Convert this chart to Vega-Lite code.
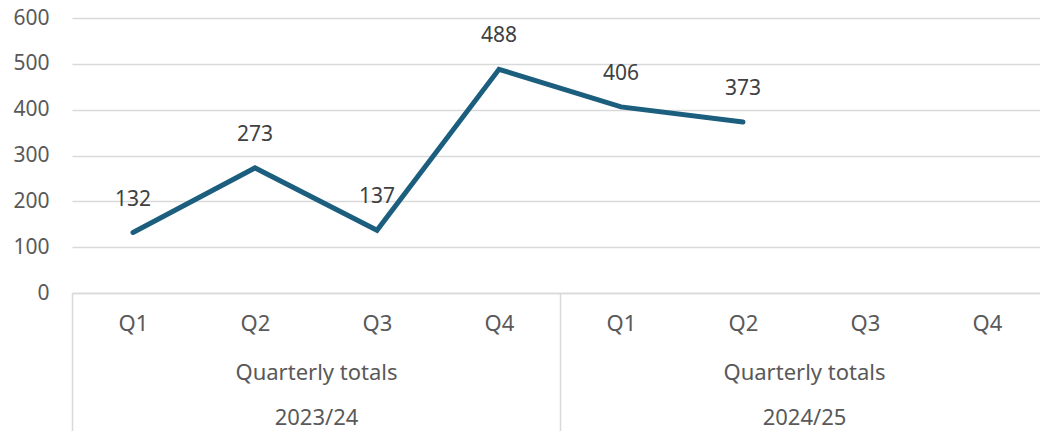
{
  "$schema": "https://vega.github.io/schema/vega-lite/v6.json",
  "width": 976,
  "height": 275,
  "autosize": {"type": "none"},
  "padding": {"left": 72, "top": 18, "right": 0, "bottom": 138},
  "background": "white",
  "config": {
    "view": {"stroke": null},
    "font": "Noto Sans",
    "axis": {"labelFont": "Noto Sans", "labelFontSize": 21, "labelColor": "#595959", "gridColor": "#D9D9D9", "domainColor": "#D9D9D9", "tickColor": "#D9D9D9", "gridWidth": 1.5, "domainWidth": 1.5, "tickWidth": 1.5}
  },
  "data": {
    "values": [
      {"period": "2023/24 Q1", "year": "2023/24", "quarter": "Q1", "value": 132},
      {"period": "2023/24 Q2", "year": "2023/24", "quarter": "Q2", "value": 273},
      {"period": "2023/24 Q3", "year": "2023/24", "quarter": "Q3", "value": 137},
      {"period": "2023/24 Q4", "year": "2023/24", "quarter": "Q4", "value": 488},
      {"period": "2024/25 Q1", "year": "2024/25", "quarter": "Q1", "value": 406},
      {"period": "2024/25 Q2", "year": "2024/25", "quarter": "Q2", "value": 373},
      {"period": "2024/25 Q3", "year": "2024/25", "quarter": "Q3", "value": null},
      {"period": "2024/25 Q4", "year": "2024/25", "quarter": "Q4", "value": null}
    ]
  },
  "layer": [
    {
      "layer": [
        {
          "mark": {"type": "line", "color": "#1B5E7E", "strokeWidth": 5, "strokeCap": "round", "strokeJoin": "miter"},
          "transform": [{"filter": "datum.value != null"}],
          "encoding": {
            "x": {"field": "period", "type": "nominal"},
            "y": {"field": "value", "type": "quantitative"}
          }
        },
        {
          "mark": {"type": "text", "fontSize": 21, "color": "#404040", "dy": -33, "baseline": "middle"},
          "transform": [{"filter": "datum.value != null"}],
          "encoding": {
            "x": {"field": "period", "type": "nominal"},
            "y": {"field": "value", "type": "quantitative"},
            "text": {"field": "value", "type": "quantitative"}
          }
        }
      ],
      "encoding": {
        "x": {
          "field": "period", "type": "nominal",
          "scale": {"domain": ["2023/24 Q1", "2023/24 Q2", "2023/24 Q3", "2023/24 Q4", "2024/25 Q1", "2024/25 Q2", "2024/25 Q3", "2024/25 Q4"], "paddingInner": 0, "paddingOuter": 0},
          "axis": {"title": null, "labelExpr": "slice(datum.label, 8)", "labelFontSize": 22, "ticks": false, "labelPadding": 30, "labelBaseline": "middle", "labelAngle": 0, "domain": true, "grid": false}
        },
        "y": {
          "field": "value", "type": "quantitative",
          "scale": {"domain": [0, 600], "nice": false},
          "axis": {"title": null, "values": [0, 100, 200, 300, 400, 500, 600], "domain": false, "ticks": false, "labelPadding": 23, "grid": true}
        }
      }
    },
    {
      "mark": {"type": "point", "opacity": 0},
      "encoding": {
        "x": {
          "field": "year", "type": "nominal",
          "scale": {"domain": ["2023/24", "2024/25"], "paddingInner": 0, "paddingOuter": 0},
          "axis": {"title": null, "orient": "bottom", "ticks": true, "tickBand": "extent", "tickSize": 138, "domain": false, "grid": false, "labelAngle": 0, "labelFontSize": 22, "labelBaseline": "middle", "labelLineHeight": 45, "labelPadding": -59, "labelExpr": "datum.label ? ['Quarterly totals', datum.label] : ''"}
        }
      }
    }
  ],
  "resolve": {"scale": {"x": "independent"}, "axis": {"x": "independent"}}
}
